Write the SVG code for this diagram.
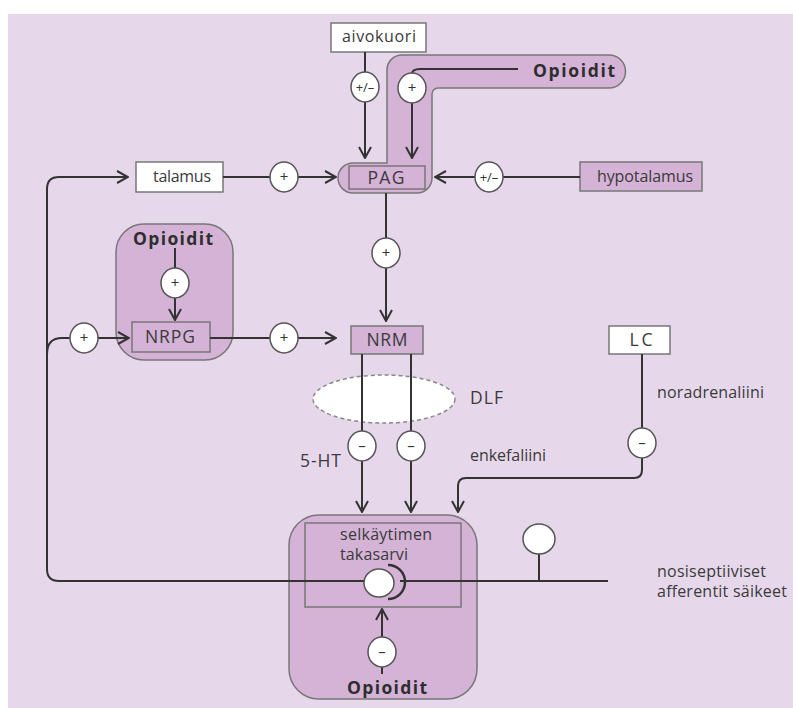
<svg xmlns="http://www.w3.org/2000/svg" width="793" height="708" viewBox="0 0 793 708">
<defs>
<marker id="arr" viewBox="0 0 13 14" refX="12" refY="7" markerWidth="13" markerHeight="14" markerUnits="userSpaceOnUse" orient="auto">
<path d="M1,1 L12,7 L1,13" fill="none" stroke="#333" stroke-width="2" stroke-linejoin="miter"/>
</marker>
<style>
.bg{fill:#e6d8ea}
.wbox{fill:#ffffff;stroke:#777;stroke-width:1.5}
.pbox{fill:#d5b3d7;stroke:#777;stroke-width:1.5}
.lbl{font-family:"Open Sans","Liberation Sans",sans-serif;font-size:16px;fill:#3a3a3a}
.up{font-size:17.5px}
.mid{text-anchor:middle}
.bold{font-family:"Open Sans","Liberation Sans",sans-serif;font-size:17.5px;font-weight:700;fill:#2e2e2e}
.ln{fill:none;stroke:#333;stroke-width:2}
.arw{fill:none;stroke:#333;stroke-width:2;marker-end:url(#arr)}
.sg{fill:#ffffff;stroke:#555;stroke-width:1.5}
.sgt{font-family:"Open Sans","Liberation Sans",sans-serif;font-size:15px;fill:#333;text-anchor:middle}
.sgs{font-family:"Open Sans","Liberation Sans",sans-serif;font-size:13px;fill:#333;text-anchor:middle}
</style>
</defs>
<rect x="0" y="0" width="793" height="708" fill="#ffffff"/>
<rect class="bg" x="8" y="14" width="785" height="694"/>

<g id="opioidit-pag">
<path class="pbox" d="M387,163 V70 A15,15 0 0 1 402,55 H609 A16.5,16.5 0 0 1 609,88 H438 A6,6 0 0 0 432,94 V178 A15,15 0 0 1 417,193 H353 A15,15 0 0 1 338,178 A15,15 0 0 1 353,163 Z"/>
<text class="bold" x="533" y="77" textLength="82" lengthAdjust="spacing">Opioidit</text>
</g>
<g id="pag">
<rect class="pbox" x="349" y="166" width="76" height="23"/>
<text class="lbl up mid" x="386" y="184" textLength="37" lengthAdjust="spacing">PAG</text>
</g>
<g id="aivokuori">
<rect class="wbox" x="331" y="23" width="95" height="29"/>
<text class="lbl mid" x="379" y="42" textLength="74" lengthAdjust="spacing">aivokuori</text>
</g>
<g id="talamus">
<rect class="wbox" x="136" y="162" width="87" height="30"/>
<text class="lbl mid" x="182" y="182" textLength="58" lengthAdjust="spacing">talamus</text>
</g>
<g id="hypotalamus">
<rect class="pbox" x="580" y="162" width="122" height="29"/>
<text class="lbl mid" x="645" y="182" textLength="96" lengthAdjust="spacing">hypotalamus</text>
</g>
<g id="opioidit-nrpg">
<rect class="pbox" x="116" y="224" width="117" height="136" rx="28" ry="28"/>
<text class="bold mid" x="173" y="245" textLength="80" lengthAdjust="spacing">Opioidit</text>
</g>
<g id="nrpg">
<rect class="pbox" x="132" y="322" width="78" height="30"/>
<text class="lbl up mid" x="170" y="343" textLength="50" lengthAdjust="spacing">NRPG</text>
</g>
<g id="nrm">
<rect class="pbox" x="351" y="326" width="72" height="28"/>
<text class="lbl up mid" x="387" y="346" textLength="41" lengthAdjust="spacing">NRM</text>
</g>
<g id="lc">
<rect class="wbox" x="609" y="326" width="61" height="28"/>
<text class="lbl up mid" x="641" y="346" textLength="23" lengthAdjust="spacing">LC</text>
<text class="lbl" x="657" y="398" textLength="107" lengthAdjust="spacing">noradrenaliini</text>
</g>
<g id="dlf">
<ellipse cx="384" cy="399" rx="71" ry="24" fill="#ffffff" stroke="#888" stroke-width="1.5" stroke-dasharray="4 3"/>
<text class="lbl up" x="470" y="404" textLength="33" lengthAdjust="spacing">DLF</text>
</g>
<g id="selkaytimen-takasarvi">
<rect class="pbox" x="289" y="515" width="188" height="184" rx="30" ry="30"/>
<rect class="pbox" x="305" y="523" width="156" height="84"/>
<text class="lbl" x="340" y="540" textLength="92" lengthAdjust="spacing">selkäytimen</text>
<text class="lbl" x="340" y="560" textLength="68" lengthAdjust="spacing">takasarvi</text>
<text class="bold mid" x="387" y="694" textLength="80" lengthAdjust="spacing">Opioidit</text>
</g>
<g id="labels">
<text class="lbl up" x="300" y="467" textLength="41" lengthAdjust="spacing">5-HT</text>
<text class="lbl" x="470" y="461" textLength="76" lengthAdjust="spacing">enkefaliini</text>
<text class="lbl" x="657" y="577" textLength="109" lengthAdjust="spacing">nosiseptiiviset</text>
<text class="lbl" x="657" y="597" textLength="130" lengthAdjust="spacing">afferentit säikeet</text>
</g>

<g id="connectors">
<path class="ln" d="M365,52 V72"/>
<path class="arw" d="M365,102 V158"/>
<path class="ln" d="M518,69 H420 Q412,69 412,74"/>
<path class="arw" d="M412,103 V158"/>
<path class="ln" d="M223,177 H270"/>
<path class="arw" d="M298,177 H336"/>
<path class="ln" d="M580,177 H503"/>
<path class="arw" d="M475,177 H435"/>
<path class="ln" d="M386,193 V238"/>
<path class="arw" d="M386,268 V321"/>
<path class="ln" d="M175,248 V268"/>
<path class="arw" d="M175,298 V320"/>
<path class="ln" d="M210,338 H270"/>
<path class="arw" d="M298,338 H336"/>
<path class="arw" d="M379,581 H59 Q47,581 47,569 V189 Q47,177 59,177 H128"/>
<path class="ln" d="M47,354 Q47,338 62,338 H70"/>
<path class="arw" d="M98,338 H129"/>
<path class="ln" d="M362,354 V431"/>
<path class="arw" d="M362,461 V512"/>
<path class="ln" d="M411,354 V431"/>
<path class="arw" d="M411,461 V512"/>
<path class="ln" d="M642,354 V428"/>
<path class="arw" d="M642,458 V470 Q642,478 634,478 H466 Q458,478 458,486 V512"/>
<path class="ln" d="M382,667 V674"/>
<path class="arw" d="M382,637 V609"/>
<path class="ln" d="M400,581 H608"/>
<path class="ln" d="M539,553 V581"/>
</g>

<g id="afferent">
<ellipse class="sg" cx="379" cy="583" rx="15" ry="14"/>
<path d="M388,565 A17,17 0 0 1 388,599" fill="none" stroke="#333" stroke-width="2.5"/>
<ellipse class="sg" cx="539" cy="539" rx="16" ry="15"/>
</g>

<g id="signs">
<ellipse class="sg" cx="365" cy="87" rx="14" ry="15"/><text class="sgs" x="365" y="92">+/–</text>
<ellipse class="sg" cx="412" cy="88" rx="14" ry="15"/><text class="sgt" x="412" y="93">+</text>
<ellipse class="sg" cx="284" cy="177" rx="14" ry="15"/><text class="sgt" x="284" y="182">+</text>
<ellipse class="sg" cx="489" cy="177" rx="14" ry="15"/><text class="sgs" x="489" y="182">+/–</text>
<ellipse class="sg" cx="386" cy="253" rx="14" ry="15"/><text class="sgt" x="386" y="258">+</text>
<ellipse class="sg" cx="175" cy="283" rx="14" ry="15"/><text class="sgt" x="175" y="288">+</text>
<ellipse class="sg" cx="84" cy="338" rx="14" ry="15"/><text class="sgt" x="84" y="343">+</text>
<ellipse class="sg" cx="284" cy="338" rx="14" ry="15"/><text class="sgt" x="284" y="343">+</text>
<ellipse class="sg" cx="362" cy="446" rx="14" ry="15"/><text class="sgt" x="362" y="451">–</text>
<ellipse class="sg" cx="411" cy="446" rx="14" ry="15"/><text class="sgt" x="411" y="451">–</text>
<ellipse class="sg" cx="642" cy="443" rx="14" ry="15"/><text class="sgt" x="642" y="448">–</text>
<ellipse class="sg" cx="382" cy="652" rx="14" ry="15"/><text class="sgt" x="382" y="657">–</text>
</g>
</svg>
